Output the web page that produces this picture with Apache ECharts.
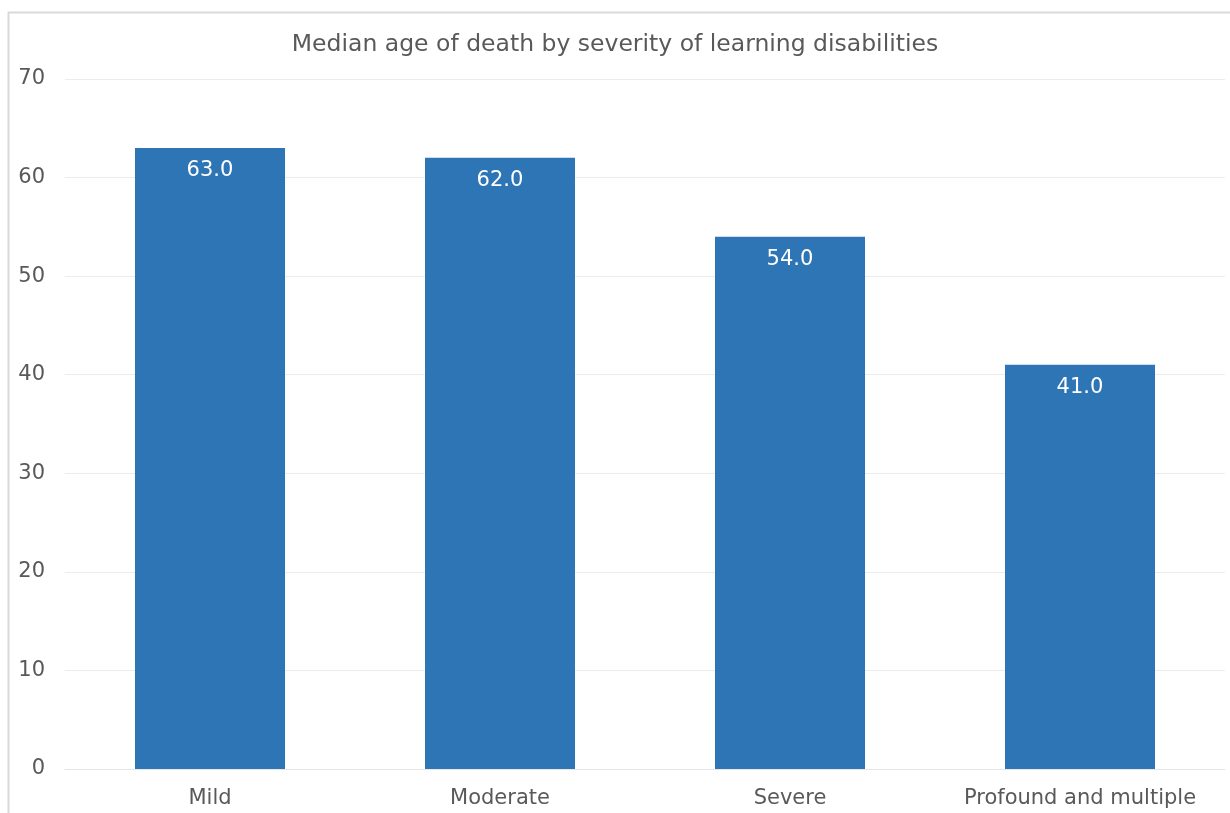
<!DOCTYPE html>
<html><head><meta charset="utf-8">
<script src="https://cdn.jsdelivr.net/npm/echarts@6/dist/echarts.min.js"></script>
<style>html,body{margin:0;padding:0;background:#fff}#c{width:1230px;height:813px}</style>
</head><body><div id="c"></div>
<script>
const categories = ['Mild', 'Moderate', 'Severe', 'Profound and multiple'];
const values = [63.0, 62.0, 54.0, 41.0];
const yTicks = [0, 10, 20, 30, 40, 50, 60, 70];
const titleText = 'Median age of death by severity of learning disabilities';

const FONT = '"DejaVu Sans", Arial, sans-serif';
const chart = echarts.init(document.getElementById('c'), null, {renderer: 'canvas'});
chart.setOption({
  backgroundColor: '#fff',
  animation: false,
  graphic: [{
    type: 'rect', shape: {x: 8.5, y: 12.5, width: 1240, height: 820},
    style: {fill: 'none', stroke: '#d9d9d9', lineWidth: 2}, silent: true
  }],
  title: {
    text: titleText, left: 'center', top: 28,
    textStyle: {fontFamily: FONT, fontSize: 23.5, fontWeight: 'normal', color: '#595959'}
  },
  grid: {left: 65, right: 5, top: 79, bottom: 44, containLabel: false},
  xAxis: {
    type: 'category', data: categories,
    axisLine: {show: true, lineStyle: {color: '#e6e6e6', width: 1}},
    axisTick: {show: false},
    axisLabel: {interval: 0, hideOverlap: false, fontFamily: FONT, fontSize: 21, color: '#595959', margin: 19}
  },
  yAxis: {
    type: 'value', min: yTicks[0], max: yTicks[yTicks.length - 1], interval: 10,
    axisLine: {show: false}, axisTick: {show: false},
    axisLabel: {fontFamily: FONT, fontSize: 21, color: '#595959', margin: 20},
    splitLine: {lineStyle: {color: '#ececec', width: 1}}
  },
  series: [{
    type: 'bar', data: values, barWidth: 150,
    itemStyle: {color: '#2E75B6'},
    label: {
      show: true, position: 'insideTop', distance: 12,
      formatter: p => p.value.toFixed(1),
      fontFamily: FONT, fontSize: 21, color: '#fff'
    }
  }]
});
</script></body></html>
